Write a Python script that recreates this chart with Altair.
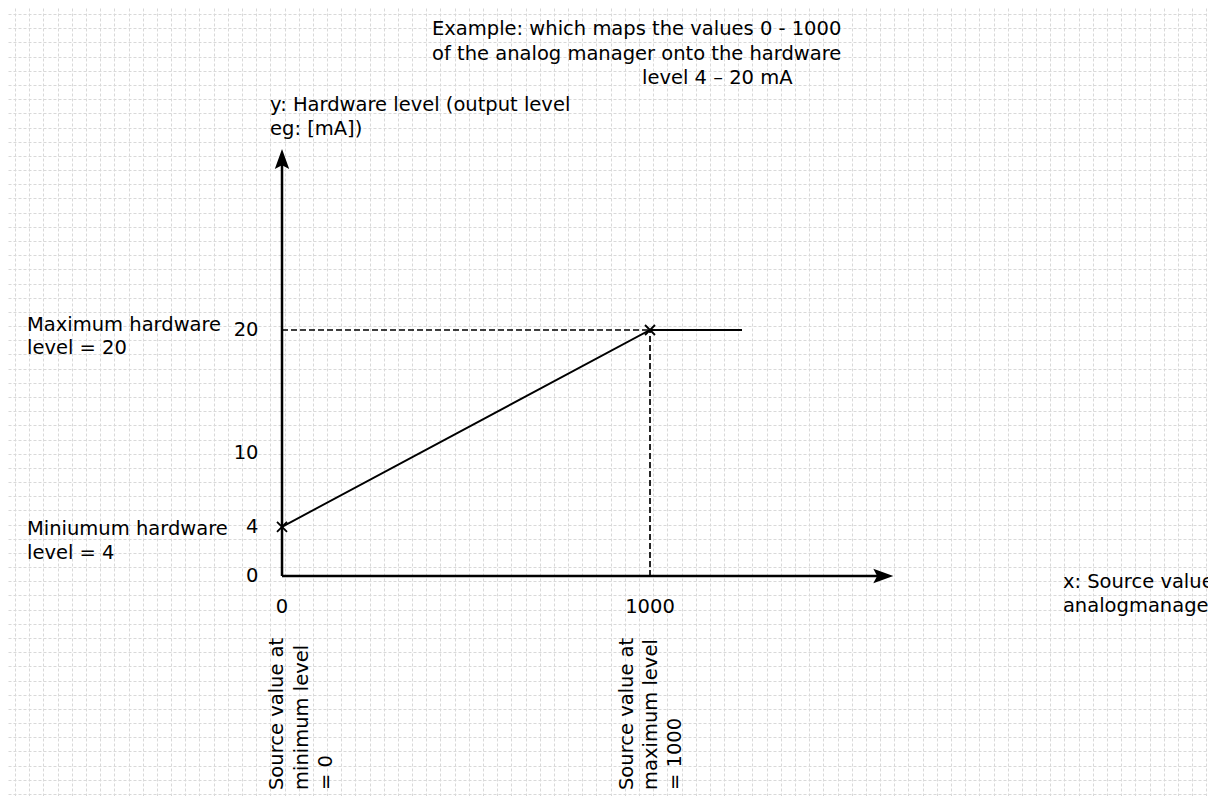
import altair as alt
import pandas as pd

# ---------------- data ----------------
SOURCE_X = [0, 1000, 1250]          # source value of the characteristic
HW_LEVEL = [4, 20, 20]              # hardware level (mA)
KNOT_X = [0, 1000]                  # marked points
KNOT_Y = [4, 20]
X_TICK_VALUES = [0, 1000]
X_TICK_LABELS = ["0", "1000"]
Y_TICK_VALUES = [0, 4, 10, 20]
Y_TICK_LABELS = ["0", "4", "10", "20"]
X_AXIS_END = 1634                   # end of the drawn x arrow (source units)
Y_AXIS_END = 33.9                   # end of the drawn y arrow (mA)

TITLE_LINES = ["Example: which maps the values 0 - 1000",
               "of the analog manager onto the hardware",
               "level 4 \u2013 20 mA"]
TITLE_X = [407.6, 407.6, 978.3]
TITLE_Y = [43.98, 41.95, 40.0]

YLAB_LINES = ["y: Hardware level (output level", "eg: [mA])"]
YLAB_X = [-32.6, -32.6]
YLAB_Y = [37.8, 35.85]

XLAB_LINES = ["x: Source value", "analogmanager"]
XLAB_X = [2122, 2122]
XLAB_Y = [-0.98, -2.93]

LEFT_LINES = ["Maximum hardware", "level = 20", "Miniumum hardware", "level = 4"]
LEFT_X = [-693, -693, -693, -693]
LEFT_Y = [19.92, 18.05, 3.33, 1.42]

ROT_LINES = ["Source value at", "minimum level", "= 0",
             "Source value at", "maximum level", "= 1000"]
ROT_X = [2.7, 70.7, 135.9, 953.8, 1019.0, 1084.0]
ROT_Y = [-17.4, -17.4, -17.4, -17.4, -17.4, -17.4]

# ---------------- layout ----------------
W, H = 1200, 788
X_DOMAIN = [-744.6, 2516.3]
Y_DOMAIN = [-17.886, 46.18]
PX_X = W / (X_DOMAIN[1] - X_DOMAIN[0])
PX_Y = H / (Y_DOMAIN[1] - Y_DOMAIN[0])
GRID_STEP = 14.18
x_grid = [X_DOMAIN[0] + (7.1 + GRID_STEP * k) / PX_X for k in range(85)]
y_grid = [Y_DOMAIN[1] - (6.1 + GRID_STEP * k) / PX_Y for k in range(56)]

FONT = "DejaVu Sans"
FS = 19.5
BLACK = "#000000"

xs = alt.Scale(domain=X_DOMAIN, nice=False, zero=False)
ys = alt.Scale(domain=Y_DOMAIN, nice=False, zero=False)
grid_style = dict(grid=True, labels=False, ticks=False, domain=False, title=None,
                  gridColor="#d9d9d9", gridDash=[3, 2], gridWidth=1)
xa = alt.Axis(values=x_grid, **grid_style)
ya = alt.Axis(values=y_grid, **grid_style)


def X(f="x"):
    return alt.X(f"{f}:Q", scale=xs, axis=xa)


def Y(f="y"):
    return alt.Y(f"{f}:Q", scale=ys, axis=ya)


# characteristic line
curve = alt.Chart(pd.DataFrame({"x": SOURCE_X, "y": HW_LEVEL, "o": range(len(SOURCE_X))})).mark_line(
    color=BLACK, strokeWidth=1.9).encode(x=X(), y=Y(), order="o:Q")

# dashed helper lines
dash_h = alt.Chart(pd.DataFrame({"x": [0], "x2": [KNOT_X[1]], "y": [KNOT_Y[1]]})).mark_rule(
    color=BLACK, strokeWidth=1.7, strokeDash=[6, 3]).encode(x=X(), x2="x2:Q", y=Y())
dash_v = alt.Chart(pd.DataFrame({"x": [KNOT_X[1]], "y": [0], "y2": [KNOT_Y[1]]})).mark_rule(
    color=BLACK, strokeWidth=1.7, strokeDash=[6, 3]).encode(x=X(), y=Y(), y2="y2:Q")

# axes lines
axis_y = alt.Chart(pd.DataFrame({"x": [0], "y": [0], "y2": [Y_AXIS_END]})).mark_rule(
    color=BLACK, strokeWidth=2.5).encode(x=X(), y=Y(), y2="y2:Q")
axis_x = alt.Chart(pd.DataFrame({"x": [0], "x2": [X_AXIS_END], "y": [0]})).mark_rule(
    color=BLACK, strokeWidth=2.5).encode(x=X(), x2="x2:Q", y=Y())

# arrow heads
head_up = alt.Chart(pd.DataFrame({"x": [0], "y": [Y_AXIS_END]})).mark_point(
    shape="M0,-1L0.72,1L0,0.62L-0.72,1Z", size=400, filled=True, color=BLACK, opacity=1).encode(x=X(), y=Y())
head_right = alt.Chart(pd.DataFrame({"x": [X_AXIS_END], "y": [0]})).mark_point(
    shape="M1,0L-1,-0.72L-0.62,0L-1,0.72Z", size=400, filled=True, color=BLACK, opacity=1).encode(x=X(), y=Y())

# cross markers
crosses = alt.Chart(pd.DataFrame({"x": KNOT_X, "y": KNOT_Y})).mark_point(
    shape="M-1,-1L1,1M-1,1L1,-1", size=100, filled=False, color=BLACK, strokeWidth=1.8, opacity=1
).encode(x=X(), y=Y())


def text_layer(xv, yv, labels, align, baseline="alphabetic", angle=0):
    df = pd.DataFrame({"x": xv, "y": yv, "label": labels})
    return alt.Chart(df).mark_text(align=align, baseline=baseline, angle=angle, font=FONT,
                                   fontSize=FS, color=BLACK, clip=True).encode(
        x=X(), y=Y(), text="label:N")


x_ticks = text_layer(X_TICK_VALUES, [-2.54] * len(X_TICK_VALUES), X_TICK_LABELS, "center", "middle")
y_ticks = text_layer([-63.9] * len(Y_TICK_VALUES), Y_TICK_VALUES, Y_TICK_LABELS, "right", "middle")
title_t = text_layer(TITLE_X, TITLE_Y, TITLE_LINES, "left")
ylab_t = text_layer(YLAB_X, YLAB_Y, YLAB_LINES, "left")
xlab_t = text_layer(XLAB_X, XLAB_Y, XLAB_LINES, "left")
left_t = text_layer(LEFT_X, LEFT_Y, LEFT_LINES, "left")
rot_t = text_layer(ROT_X, ROT_Y, ROT_LINES, "left", "alphabetic", 270)

chart = alt.layer(
    curve, dash_h, dash_v, axis_y, axis_x, head_up, head_right, crosses,
    x_ticks, y_ticks, title_t, ylab_t, xlab_t, left_t, rot_t
).properties(
    width=W, height=H, padding=0, background="white",
    autosize=alt.AutoSizeParams(type="none")
).configure_view(stroke=None)

chart.save("out.html", embed_options={"renderer": "svg", "actions": False})
